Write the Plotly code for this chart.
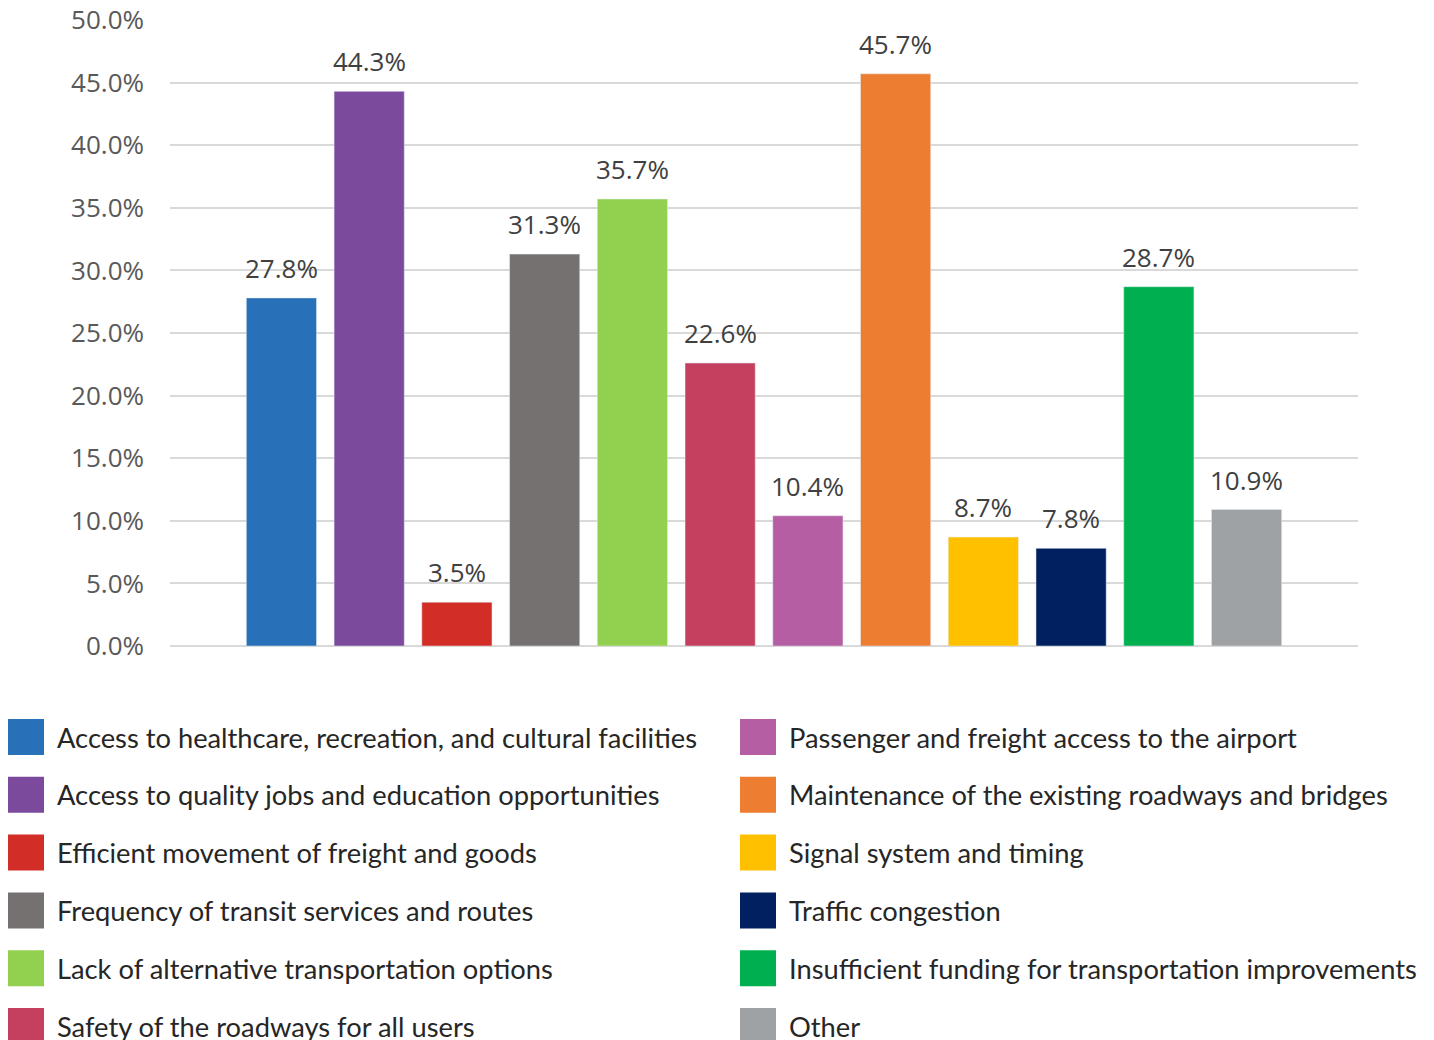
import plotly.graph_objects as go

categories = [
    "Access to healthcare, recreation, and cultural facilities",
    "Access to quality jobs and education opportunities",
    "Efficient movement of freight and goods",
    "Frequency of transit services and routes",
    "Lack of alternative transportation options",
    "Safety of the roadways for all users",
    "Passenger and freight access to the airport",
    "Maintenance of the existing roadways and bridges",
    "Signal system and timing",
    "Traffic congestion",
    "Insufficient funding for transportation improvements",
    "Other",
]
values = [27.8, 44.3, 3.5, 31.3, 35.7, 22.6, 10.4, 45.7, 8.7, 7.8, 28.7, 10.9]
colors = ["#2870b8", "#7b4a9c", "#d22e27", "#767171", "#92d050", "#c4405e",
          "#b55ea4", "#ed7d31", "#ffc000", "#002060", "#00b050", "#9ea2a5"]
tick_vals = [0, 5, 10, 15, 20, 25, 30, 35, 40, 45, 50]

W, H = 1434, 1040
L, R, T, B = 170, 76, 20, 394
PW, PH = W - L - R, H - T - B


def px_x(x):
    return (x - L) / PW


def px_y(y):
    return (H - B - y) / PH


xs = list(range(len(values)))

fig = go.Figure(go.Bar(
    x=xs, y=values, width=0.8, marker_color=colors,
    hovertext=categories, showlegend=False,
))

# value labels above each bar
for x, v in zip(xs, values):
    fig.add_annotation(x=x, y=v, text=f"{v:.1f}%", showarrow=False,
                       yanchor="bottom", yshift=10,
                       font=dict(family="Open Sans", size=26, color="#404040"))

# legend drawn as two columns of squares + labels
col_x = [8, 740]
row_y0, row_step = 737, 57.8
for i, (name, c) in enumerate(zip(categories, colors)):
    col, row = divmod(i, 6)
    cx = col_x[col]
    cy = row_y0 + row * row_step
    fig.add_shape(type="rect", xref="paper", yref="paper",
                  x0=px_x(cx), x1=px_x(cx + 36), y0=px_y(cy - 18), y1=px_y(cy + 18),
                  fillcolor=c, line_width=0)
    fig.add_annotation(xref="paper", yref="paper", x=px_x(cx + 47), y=px_y(cy),
                       text=name, showarrow=False, xanchor="left", yanchor="middle",
                       font=dict(family="Lato", size=27.3, color="#262626"))

fig.update_layout(
    width=W, height=H,
    margin=dict(l=L, r=R, t=T, b=B, autoexpand=False),
    plot_bgcolor="white", paper_bgcolor="white",
    font=dict(family="Open Sans", color="#595959"),
)
fig.update_xaxes(range=[-1.27, 12.27], showticklabels=False, showgrid=False,
                 zeroline=False, showline=False, automargin=False)
fig.update_yaxes(range=[0, 50], tickvals=tick_vals,
                 ticktext=[f"{t:.1f}%" for t in tick_vals],
                 tickfont=dict(family="Open Sans", size=26, color="#595959"),
                 gridcolor="#d9d9d9", gridwidth=2, zeroline=True,
                 zerolinecolor="#d9d9d9", zerolinewidth=2, ticklabelstandoff=25,
                 automargin=False)

fig.write_html("out.html", config={"displayModeBar": False},
               post_script="document.body.style.margin='0';")
